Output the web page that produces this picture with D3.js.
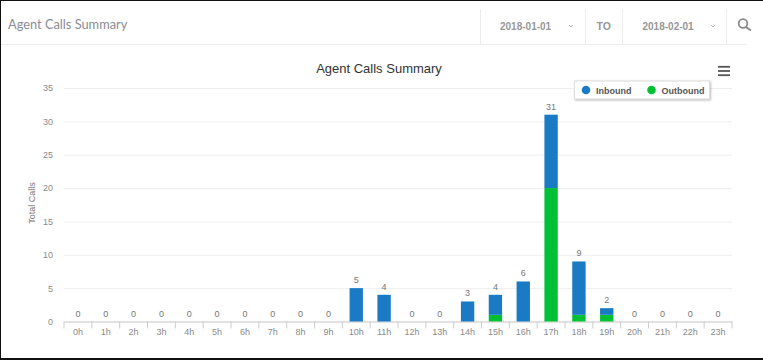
<!DOCTYPE html>
<html>
<head>
<meta charset="utf-8">
<script src="https://cdnjs.cloudflare.com/ajax/libs/d3/7.8.5/d3.min.js"></script>
<style>
  html, body { margin: 0; padding: 0; background: #fff; }
  svg { display: block; }
  text { font-family: "Liberation Sans", Arial, sans-serif; }
</style>
</head>
<body>
<svg id="chart" width="763" height="362"></svg>
<script>
const hours = ['0h','1h','2h','3h','4h','5h','6h','7h','8h','9h','10h','11h','12h','13h','14h','15h','16h','17h','18h','19h','20h','21h','22h','23h']
const inbound = [0,0,0,0,0,0,0,0,0,0,5,4,0,0,3,3,6,11,8,1,0,0,0,0]
const outbound = [0,0,0,0,0,0,0,0,0,0,0,0,0,0,0,1,0,20,1,1,0,0,0,0]
const yTicks = [0,5,10,15,20,25,30,35]
const legendNames = ['Inbound','Outbound']
const colors = ['#1a7bc4','#00c135']

const margin = { top: 88, left: 64, bottom: 40, right: 31 }
const width = 763, height = 362
const innerwidth = width - margin.left - margin.right
const innerheight = 321.5 - margin.top

const svg = d3.select('#chart')

// frame of the screenshot
svg.append('rect').attr('x', 0).attr('y', 0).attr('width', width).attr('height', 1).attr('fill', '#111')
svg.append('rect').attr('x', 0).attr('y', 0).attr('width', 1).attr('height', 359).attr('fill', '#111')
svg.append('rect').attr('x', 0).attr('y', 358).attr('width', width).attr('height', 2).attr('fill', '#111')

// page header
svg.append('text').attr('x', 8).attr('y', 29).attr('font-size', 12.8).attr('fill', '#8a8a94')
  .style('font-family', 'Lato').text('Agent Calls Summary')
svg.append('line').attr('x1', 1).attr('x2', 747).attr('y1', 44.5).attr('y2', 44.5).attr('stroke', '#ececec')

const seps = [480.5, 585.5, 622.5, 726.5]
svg.selectAll('.sep').data(seps).enter().append('line').attr('class', 'sep')
  .attr('x1', d => d).attr('x2', d => d).attr('y1', 9).attr('y2', 44).attr('stroke', '#ececec')

const headerTexts = [
  { t: '2018-01-01', x: 500, size: 10 },
  { t: 'TO', x: 596.5, size: 10.5 },
  { t: '2018-02-01', x: 642.5, size: 10 }
]
svg.selectAll('.head').data(headerTexts).enter().append('text').attr('class', 'head')
  .attr('x', d => d.x).attr('y', 30).attr('font-size', d => d.size).attr('font-weight', 'bold')
  .attr('fill', '#979797').text(d => d.t)

// dropdown carets
svg.selectAll('.caret').data([571, 713]).enter().append('path').attr('class', 'caret')
  .attr('d', d => `M${d - 2},25 L${d},27 L${d + 2},25`)
  .attr('fill', 'none').attr('stroke', '#bbb')

// search icon
svg.append('circle').attr('cx', 743).attr('cy', 23.5).attr('r', 4.3).attr('fill', 'none').attr('stroke', '#8a8a8a').attr('stroke-width', 1.8)
svg.append('line').attr('x1', 746).attr('y1', 27).attr('x2', 751).attr('y2', 30.5).attr('stroke', '#8a8a8a').attr('stroke-width', 2)

// chart title
svg.append('text').attr('x', 379).attr('y', 73).attr('text-anchor', 'middle').attr('font-size', 13).attr('fill', '#333')
  .text('Agent Calls Summary')

// menu button
svg.selectAll('.burger').data([66.8, 71, 75.2]).enter().append('line').attr('class', 'burger')
  .attr('x1', 718).attr('x2', 730).attr('y1', d => d).attr('y2', d => d)
  .attr('stroke', '#555').attr('stroke-width', 1.8)

const canvas = svg.append('g').attr('id', 'maingroup')
  .attr('transform', `translate(${margin.left},${margin.top})`)

const xScale = d3.scaleBand().domain(hours).range([0, innerwidth]).paddingInner(0.52).paddingOuter(0.26)
const yScale = d3.scaleLinear().domain([0, 35]).range([innerheight, 0])

// y axis and grid
const yAxis = d3.axisLeft(yScale).tickValues(yTicks).tickSize(-innerwidth).tickPadding(11)
const yy = canvas.append('g').attr('id', 'yy').call(yAxis)
yy.select('.domain').remove()
yy.selectAll('.tick line').attr('stroke', '#eeeeee')
yy.selectAll('.tick text').attr('font-size', 9).attr('fill', '#8a8a8a')

canvas.append('text').attr('transform', 'rotate(-90)')
  .attr('x', -115).attr('y', -29)
  .attr('text-anchor', 'middle').attr('font-size', 9).attr('fill', '#777').text('Total Calls')

// x axis, tick marks sit between the categories
const xAxis = d3.axisBottom(xScale).tickSize(0).tickPadding(7)
const xx = canvas.append('g').attr('id', 'xx').attr('transform', `translate(0,${innerheight})`).call(xAxis)
xx.select('.domain').attr('stroke', '#cccccc')
xx.selectAll('.tick text').attr('font-size', 9).attr('fill', '#8a8a8a')

const step = xScale.step()
xx.selectAll('.edge').data(d3.range(hours.length + 1)).enter().append('line').attr('class', 'edge')
  .attr('x1', i => i * step).attr('x2', i => i * step).attr('y1', 0).attr('y2', 7)
  .attr('stroke', '#cccccc')

// stacked bars
const rows = hours.map((h, i) => ({ hour: h, inbound: inbound[i], outbound: outbound[i] }))
const stack = d3.stack().keys(['outbound', 'inbound'])(rows)
canvas.selectAll('.layer').data(stack).enter().append('g').attr('class', 'layer')
  .attr('fill', d => d.key === 'inbound' ? colors[0] : colors[1])
  .selectAll('rect').data(d => d.filter(s => s[1] > s[0])).enter().append('rect')
  .attr('x', s => xScale(s.data.hour))
  .attr('y', s => yScale(s[1]))
  .attr('width', xScale.bandwidth())
  .attr('height', s => yScale(s[0]) - yScale(s[1]))

// totals above the bars
canvas.selectAll('.value').data(rows).enter().append('text').attr('class', 'value')
  .attr('x', d => xScale(d.hour) + xScale.bandwidth() / 2)
  .attr('y', d => yScale(d.inbound + d.outbound) - 5)
  .attr('text-anchor', 'middle').attr('font-size', 9)
  .attr('fill', '#777').text(d => d.inbound + d.outbound)

// legend
const legend = svg.append('g').attr('transform', 'translate(574.5,81)')
legend.append('rect').attr('x', 0).attr('y', 0).attr('width', 135).attr('height', 18)
  .attr('fill', '#fff').attr('stroke', '#ddd').style('filter', 'drop-shadow(1px 1px 1px rgba(0,0,0,0.25))')
legendNames.forEach((name, i) => {
  const lx = 11.5 + i * 65.5
  legend.append('circle').attr('cx', lx).attr('cy', 9).attr('r', 4.3).attr('fill', colors[i])
  legend.append('text').attr('x', lx + 10).attr('y', 12.5).attr('font-size', 9).attr('font-weight', 'bold')
    .attr('fill', '#555').text(name)
})
</script>
</body>
</html>
